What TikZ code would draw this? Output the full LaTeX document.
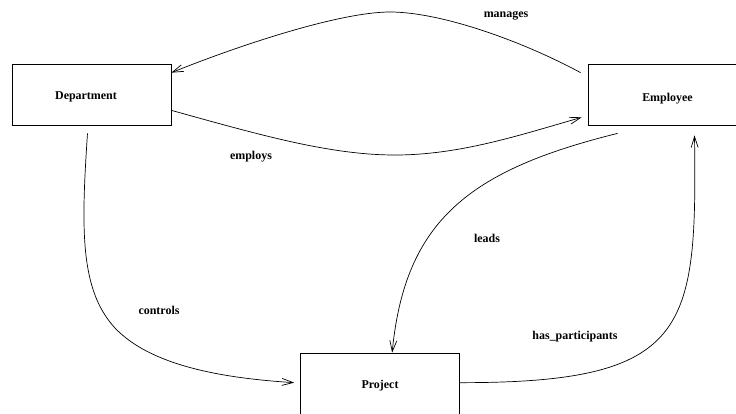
\documentclass[tikz,border=0pt]{standalone}
\usepackage{fontspec}
\setmainfont{Liberation Serif}
\usetikzlibrary{arrows.meta}
% lower a label inside its box without changing the box size
\newcommand{\lowered}[2]{\raisebox{-#1}[\height][\depth]{#2}}
\begin{document}
\begin{tikzpicture}[x=1bp,y=-1bp,
  entity/.style={draw, line width=0.7bp, minimum width=159bp, minimum height=61bp,
    inner sep=0pt, font=\fontsize{12}{14}\selectfont\bfseries},
  rel/.style={font=\fontsize{12}{14}\selectfont\bfseries, inner sep=0pt},
  link/.style={line width=0.7bp, -{Straight Barb[length=11bp,width=7bp,line width=0.7bp]}}]
\useasboundingbox (0,0) rectangle (736,413);
\clip (0,0) rectangle (736,413);

% entities
\node[entity] (dept) at (91.5,94.5) {\hspace*{-11bp}\lowered{2bp}{Department}};
\node[entity] (emp)  at (667.5,94.5) {\lowered{4bp}{Employee}};
\node[entity] (proj) at (380,383.5) {\lowered{2bp}{Project}};

% relationship labels
\node[rel] (lmanages)  at (506,16)  {manages};
\node[rel] (lemploys)  at (251,157) {employs};
\node[rel] (lcontrols) at (159,310) {controls};
\node[rel] (lleads)    at (487,238) {leads};
\node[rel] (lhas)      at (575,337) {has\_participants};

% relationships
\draw[link] ([shift={(-7,9)}]emp.north west)
  .. controls (520,40) and (440,12) .. (390,12)
  .. controls (340,12) and (240,45) .. ([shift={(0,9)}]dept.north east);
\draw[link] ([shift={(0,-15)}]dept.south east)
  .. controls (260,135) and (330,155) .. (395,155)
  .. controls (460,155) and (520,135) .. ([shift={(-6,-8)}]emp.south west);
\draw[link] ([shift={(-4,8)}]dept.south)
  .. controls (81,230) and (80,290) .. (115,328)
  .. controls (150,365) and (220,378) .. ([shift={(-6,30)}]proj.north west);
\draw[link] ([shift={(30,8)}]emp.south west)
  .. controls (470,170) and (405,220) .. ([shift={(92,0)}]proj.north west);
\draw[link] ([shift={(0,30)}]proj.north east)
  .. controls (690,383) and (697,330) .. ([shift={(27,10)}]emp.south);
\end{tikzpicture}
\end{document}
